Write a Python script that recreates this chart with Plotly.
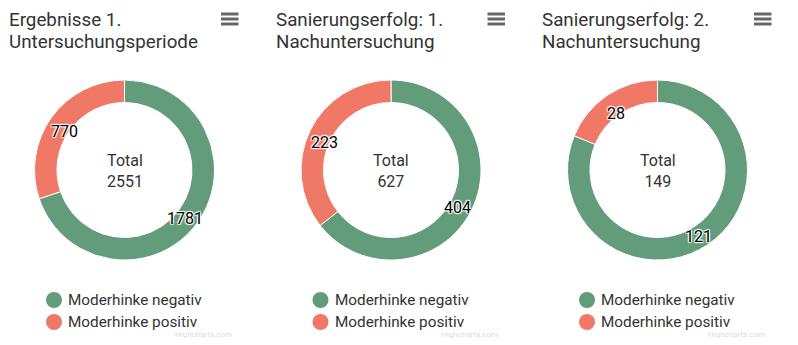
import math
import plotly.graph_objects as go

# ---- data ----
title_lines = [
    ["Ergebnisse 1.", "Untersuchungsperiode"],
    ["Sanierungserfolg: 1.", "Nachuntersuchung"],
    ["Sanierungserfolg: 2.", "Nachuntersuchung"],
]
categories = ["Moderhinke negativ", "Moderhinke positiv"]
negativ = [1781, 404, 121]
positiv = [770, 223, 28]
colors = ["#639c7a", "#f07866"]
credit = "Highcharts.com"

# ---- layout constants (pixels) ----
W, H = 798, 345
STRIDE = 266.5
CX0 = 124.5
CY = 170
R = 90
HOLE = 0.75
LABEL_R = 74
TXT = "#333333"
FONT = "Roboto"


def px(x):
    return x / W


def py(y):
    return 1 - y / H


fig = go.Figure()
annotations = []
shapes = []

for k in range(3):
    left = k * STRIDE
    xc = CX0 + k * STRIDE
    vals = [negativ[k], positiv[k]]
    total = sum(vals)
    fig.add_trace(go.Pie(
        labels=categories,
        values=vals,
        hole=HOLE,
        sort=False,
        direction="clockwise",
        rotation=0,
        marker=dict(colors=colors, line=dict(color="white", width=1)),
        textinfo="none",
        showlegend=False,
        domain=dict(x=[px(xc - R), px(xc + R)], y=[py(CY + R), py(CY - R)]),
    ))

    # data labels on the ring, placed at the mid-angle of each slice
    cum = 0
    for v in vals:
        mid = (cum + v / 2) / total * 2 * math.pi
        cum += v
        lx = xc + LABEL_R * math.sin(mid)
        ly = CY - LABEL_R * math.cos(mid) + 5
        annotations.append(dict(
            x=px(lx), y=py(ly), xref="paper", yref="paper",
            text=str(v), showarrow=False, xanchor="center", yanchor="middle",
            font=dict(family=FONT, size=16, color="#000000",
                      shadow="1px 1px 1px #fff, -1px -1px 1px #fff, 1px -1px 1px #fff, -1px 1px 1px #fff"),
        ))

    # centre text
    annotations.append(dict(
        x=px(xc), y=py(CY + 1), xref="paper", yref="paper",
        text=f"Total<br>{total}", showarrow=False, xanchor="center", yanchor="middle",
        font=dict(family=FONT, size=16, color=TXT),
    ))

    # title (two lines)
    for i, line in enumerate(title_lines[k]):
        annotations.append(dict(
            x=px(left + 7), y=py(20 + i * 21.5), xref="paper", yref="paper",
            text=line, showarrow=False, xanchor="left", yanchor="middle",
            font=dict(family=FONT, size=18.8, color=TXT),
        ))

    # legend
    for i, (cat, col) in enumerate(zip(categories, colors)):
        ry = 300 + i * 22
        cx = xc - 70.5
        shapes.append(dict(
            type="circle", xref="paper", yref="paper",
            x0=px(cx - 8), x1=px(cx + 8), y0=py(ry + 8), y1=py(ry - 8),
            fillcolor=col, line=dict(width=0),
        ))
        annotations.append(dict(
            x=px(xc - 58.5), y=py(ry), xref="paper", yref="paper",
            text=cat, showarrow=False, xanchor="left", yanchor="middle",
            font=dict(family=FONT, size=15.3, color=TXT),
        ))

    # credits
    annotations.append(dict(
        x=px(left + 234), y=py(334), xref="paper", yref="paper",
        text=credit, showarrow=False, xanchor="right", yanchor="middle",
        font=dict(family=FONT, size=8, color="#dcdcdc"),
    ))

    # context-menu icon
    for j in range(3):
        yy = 14 + j * 5
        shapes.append(dict(
            type="line", xref="paper", yref="paper",
            x0=px(left + 221), x1=px(left + 238.5), y0=py(yy), y1=py(yy),
            line=dict(color="#666666", width=3),
        ))

fig.update_layout(
    width=W, height=H,
    margin=dict(l=0, r=0, t=0, b=0),
    paper_bgcolor="white", plot_bgcolor="white",
    annotations=annotations, shapes=shapes,
    font=dict(family=FONT),
)

fig.write_html("out.html")
